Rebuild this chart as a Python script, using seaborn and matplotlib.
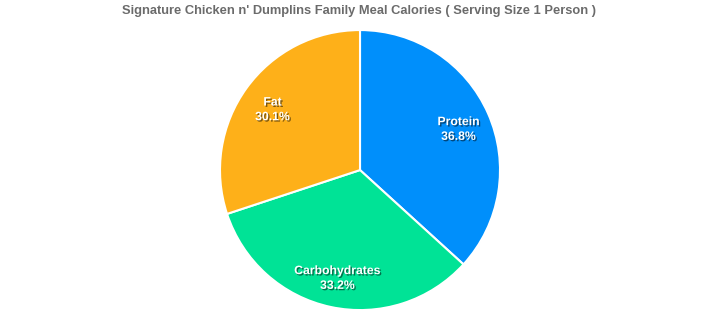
import matplotlib
matplotlib.use("Agg")
import matplotlib.pyplot as plt
import matplotlib.patheffects as pe
import matplotlib.transforms as mtransforms
import seaborn as sns

# donnees
nutrients = ["Protein", "Carbohydrates", "Fat"]
shares = [36.8, 33.2, 30.1]
colors = ["#008FFB", "#00E396", "#FEB019"]

sns.set_theme(style="white")
plt.rcParams["font.family"] = ["Liberation Sans", "DejaVu Sans"]

fig = plt.figure(figsize=(7.18, 3.23), dpi=100)
ax = fig.add_axes([0.3064, 0.040, 0.39, 0.867])

wedges, texts, autotexts = ax.pie(
    shares,
    colors=sns.color_palette(colors),
    startangle=90,
    counterclock=False,
    autopct="%.1f%%",
    pctdistance=0.77,
    wedgeprops=dict(edgecolor="white", linewidth=1.5),
)

shadow = [pe.withSimplePatchShadow(offset=(1, -1), shadow_rgbFace="black", alpha=0.5)]
shift = mtransforms.offset_copy(ax.transData, fig=fig, x=0, y=-3, units="dots")
for name, t in zip(nutrients, autotexts):
    t.set_text(name + "\n" + t.get_text())
    t.set_color("white")
    t.set_fontsize(8.8)
    t.set_fontweight("bold")
    t.set_linespacing(1.3)
    t.set_transform(shift)
    t.set_path_effects(shadow)

ax.set_xlim(-1, 1)
ax.set_ylim(-1, 1)
ax.set_aspect("equal")
fig.text(0.5, 0.965, "Signature Chicken n' Dumplins Family Meal Calories ( Serving Size 1 Person )",
         ha="center", va="center", fontsize=9.3, fontweight="bold", color="#6b6b6b")

fig.savefig("out.png", dpi=100)
